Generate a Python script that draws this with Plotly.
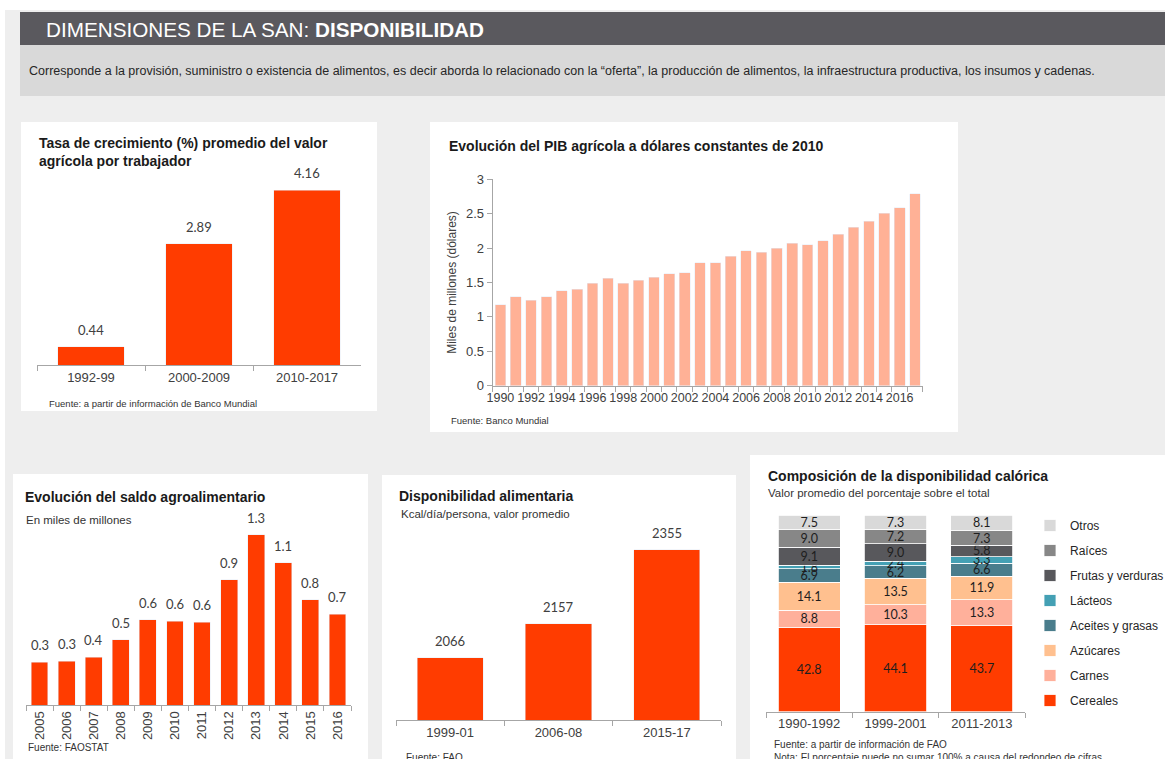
import plotly.graph_objects as go

W, H = 1165, 759

# ---------------- data ----------------
crec_cats = ["1992-99", "2000-2009", "2010-2017"]
crec_vals = [0.44, 2.89, 4.16]

pib_years = [str(y) for y in range(1990, 2018)]
pib_vals = [1.18, 1.29, 1.24, 1.29, 1.38, 1.40, 1.49, 1.56, 1.49, 1.53,
            1.58, 1.63, 1.64, 1.79, 1.79, 1.88, 1.96, 1.94, 2.00, 2.07,
            2.05, 2.11, 2.20, 2.30, 2.39, 2.51, 2.59, 2.79]
pib_ticktext = [y if int(y) % 2 == 0 else "" for y in pib_years]

saldo_years = [str(y) for y in range(2005, 2017)]
saldo_vals = [0.32, 0.33, 0.36, 0.49, 0.64, 0.63, 0.62, 0.94, 1.28, 1.07, 0.79, 0.68]

disp_cats = ["1999-01", "2006-08", "2015-17"]
disp_vals = [2066, 2157, 2355]

comp_cats = ["1990-1992", "1999-2001", "2011-2013"]
comp_groups = ["Cereales", "Carnes", "Azúcares", "Aceites y grasas", "Lácteos",
               "Frutas y verduras", "Raíces", "Otros"]
cereales = [42.8, 44.1, 43.7]
carnes = [8.8, 10.3, 13.3]
azucares = [14.1, 13.5, 11.9]
aceites = [6.9, 6.2, 6.6]
lacteos = [1.8, 2.4, 3.3]
frutas = [9.1, 9.0, 5.8]
raices = [9.0, 7.2, 7.3]
otros = [7.5, 7.3, 8.1]
comp_vals = [cereales, carnes, azucares, aceites, lacteos, frutas, raices, otros]
comp_colors = ["#ff3c00", "#ffb09b", "#ffc08f", "#4a7d8c", "#44a0b4",
               "#58585c", "#878787", "#d9d9d9"]

# ---------------- helpers ----------------
def X(px):
    return px / W

def Y(py):
    return 1 - py / H

RED = "#ff3c00"
SALMON = "#ffb196"
AXC = "#a6a6a6"
TXT = "#404040"
TFONT = "Liberation Sans, Arial, sans-serif"
NFONT = "Liberation Sans Narrow, Liberation Sans, Arial, sans-serif"
LFONT = "Lato, Noto Sans, sans-serif"

fig = go.Figure()

# chart 1
fig.add_trace(go.Bar(x=crec_cats, y=crec_vals, width=0.62, marker_color=RED,
                     xaxis="x", yaxis="y", showlegend=False))
# chart 2
fig.add_trace(go.Bar(x=pib_years, y=pib_vals, width=0.70, marker_color=SALMON,
                     xaxis="x2", yaxis="y2", showlegend=False))
# chart 3
fig.add_trace(go.Bar(x=saldo_years, y=saldo_vals, width=0.62, marker_color=RED,
                     xaxis="x3", yaxis="y3", showlegend=False))
# chart 4
fig.add_trace(go.Bar(x=disp_cats, y=disp_vals, width=0.61, marker_color=RED,
                     xaxis="x4", yaxis="y4", showlegend=False))
# chart 5 stacked
n = len(comp_groups)
for i, (name, vals, col) in enumerate(zip(comp_groups, comp_vals, comp_colors)):
    fig.add_trace(go.Bar(x=comp_cats, y=vals, name=name, width=0.72,
                         marker=dict(color=col, line=dict(color="white", width=0.8)),
                         texttemplate="%{y:.1f}", textposition="inside",
                         insidetextanchor="middle",
                         textfont=dict(family=LFONT, size=12.5, color="#1e1e1e"),
                         xaxis="x5", yaxis="y5", legendgroup=name,
                         legendrank=n - i))

# ---------------- shapes (page layout) ----------------
shapes = []
def rect(x0, y0, x1, y1, color):
    shapes.append(dict(type="rect", xref="paper", yref="paper",
                       x0=X(x0), x1=X(x1), y0=Y(y1), y1=Y(y0),
                       fillcolor=color, line=dict(width=0), layer="below"))

rect(0, 0, W, 10, "white")
rect(0, 0, 5, H, "white")
rect(20, 12, W, 45, "#5a595e")
rect(20, 45, W, 96, "#d9d9d9")
rect(21, 122, 377, 411, "white")
rect(430, 122, 958, 432, "white")
rect(13, 474, 368, H, "white")
rect(382, 475, 736, H, "white")
rect(750, 455, W, H, "white")

# ---------------- annotations ----------------
ann = []
def text(px, py, s, size, color="#1a1a1a", bold=False, family=TFONT):
    ann.append(dict(xref="paper", yref="paper", x=X(px), y=Y(py),
                    text=("<b>%s</b>" % s) if bold else s,
                    showarrow=False, xanchor="left", yanchor="middle", align="left",
                    font=dict(family=family, size=size, color=color)))

ann.append(dict(xref="paper", yref="paper", x=X(44), y=Y(29),
                text="DIMENSIONES DE LA SAN: <b>DISPONIBILIDAD</b>", showarrow=False,
                xanchor="left", yanchor="middle",
                font=dict(family=NFONT, size=20.7, color="white")))
text(27, 71, "Corresponde a la provisión, suministro o existencia de alimentos, es decir aborda lo relacionado con la “oferta”, la producción de alimentos, la infraestructura productiva, los insumos y cadenas.",
     12.5, "#262626", family=NFONT)

text(37, 152, "Tasa de crecimiento (%) promedio del valor<br>agrícola por trabajador", 14, bold=True)
text(47, 403, "Fuente: a partir de información de Banco Mundial", 9.5, "#333333", family=NFONT)

text(447, 146, "Evolución del PIB agrícola a dólares constantes de 2010", 14, bold=True)
text(449, 420, "Fuente: Banco Mundial", 9.5, "#333333", family=NFONT)

text(23, 497, "Evolución del saldo agroalimentario", 14, bold=True)
text(24, 520, "En miles de millones", 11.5, "#333333", family=NFONT)
text(26, 747, "Fuente: FAOSTAT", 10, "#333333", family=NFONT)

text(397, 496, "Disponibilidad alimentaria", 14, bold=True)
text(399, 514, "Kcal/día/persona, valor promedio", 11.5, "#333333", family=NFONT)
text(404, 757, "Fuente: FAO", 10, "#333333", family=NFONT)

text(766, 476, "Composición de la disponibilidad calórica", 14, bold=True)
text(766, 493, "Valor promedio del porcentaje sobre el total", 11.5, "#333333", family=NFONT)
text(772, 744, "Fuente: a partir de información de FAO", 10, "#333333", family=NFONT)
text(772, 757, "Nota: El porcentaje puede no sumar 100% a causa del redondeo de cifras.", 10, "#333333", family=NFONT)

# value labels above bars (x given as category index)
def value_labels(vals, xref, yref, fmt):
    for i, v in enumerate(vals):
        ann.append(dict(xref=xref, yref=yref, x=i, y=v, text=fmt.format(v),
                        showarrow=False, yanchor="bottom", yshift=7,
                        font=dict(family=LFONT, size=13, color=TXT)))

value_labels(crec_vals, "x", "y", "{:.2f}")
value_labels(saldo_vals, "x3", "y3", "{:.1f}")
value_labels(disp_vals, "x4", "y4", "{:d}")

# ---------------- axes ----------------
def cat_axis(x0, x1, anchor, ncat, size=13, family=NFONT, **kw):
    d = dict(domain=[X(x0), X(x1)], anchor=anchor, type="category",
             range=[-0.5, ncat - 0.5], showline=True,
             linecolor=AXC, linewidth=1, ticks="outside", tickson="boundaries",
             ticklen=5, tickcolor=AXC, showgrid=False, zeroline=False,
             tickfont=dict(family=family, size=size, color=TXT), fixedrange=True)
    d.update(kw)
    return d

def hidden_y(y_bottom, y_top, rng, anchor):
    return dict(domain=[Y(y_bottom), Y(y_top)], range=rng, anchor=anchor, visible=False,
                fixedrange=True)

fig.update_layout(
    width=W, height=H,
    margin=dict(l=0, r=0, t=0, b=0, autoexpand=False),
    paper_bgcolor="#eeeeee", plot_bgcolor="rgba(0,0,0,0)",
    barmode="stack",
    uniformtext=dict(minsize=12, mode="show"),
    shapes=shapes, annotations=ann,
    xaxis=cat_axis(37, 361, "y", len(crec_cats)),
    yaxis=hidden_y(365, 172, [0, 4.6], "x"),
    xaxis2=cat_axis(492.7, 922.7, "y2", len(pib_years), size=12.5, tickmode="array",
                    tickvals=pib_years, ticktext=pib_ticktext, tickangle=0),
    yaxis2=dict(domain=[Y(385.7), Y(179.3)], range=[0, 3], anchor="x2", dtick=0.5,
                showline=True, linecolor=AXC, ticks="outside", ticklen=5, tickcolor=AXC,
                showgrid=False, zeroline=False, fixedrange=True,
                tickfont=dict(family=NFONT, size=13, color=TXT),
                title=dict(text="Miles de millones (dólares)", standoff=6,
                           font=dict(family=NFONT, size=12, color=TXT))),
    xaxis3=cat_axis(26, 351, "y3", len(saldo_years), size=13, tickangle=-90),
    yaxis3=hidden_y(705, 512, [0, 1.45], "x3"),
    xaxis4=cat_axis(396, 721, "y4", len(disp_cats)),
    yaxis4=hidden_y(720, 525.5, [1900, 2420], "x4"),
    xaxis5=cat_axis(766, 1025, "y5", len(comp_cats)),
    yaxis5=hidden_y(711.7, 515, [0, 100], "x5"),
    legend=dict(x=X(1030), y=Y(511), xanchor="left", yanchor="top",
                traceorder="grouped", tracegroupgap=6, itemwidth=30,
                bgcolor="rgba(0,0,0,0)",
                font=dict(family=NFONT, size=12, color="#262626")),
    hovermode=False,
)

fig.write_html("out.html", config={"displayModeBar": False},
               post_script="document.body.style.margin='0px';")
